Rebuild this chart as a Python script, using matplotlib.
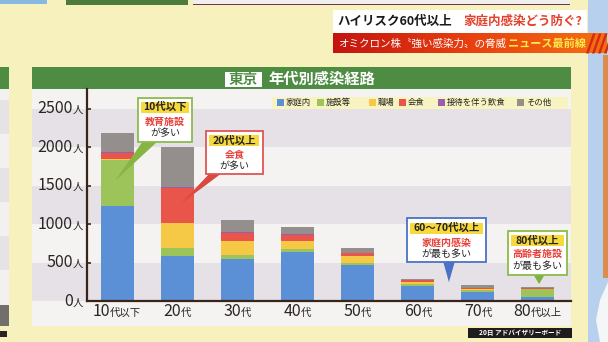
import matplotlib
matplotlib.use("Agg")
import matplotlib.pyplot as plt
import numpy as np
from matplotlib.patches import Rectangle, Polygon
from matplotlib.offsetbox import TextArea, HPacker, AnnotationBbox
from matplotlib.colors import LinearSegmentedColormap

plt.rcParams['font.family'] = ['Noto Sans CJK JP', 'DejaVu Sans']

# ---- data: 東京 年代別感染経路 (人) ----
age_num = ["10", "20", "30", "40", "50", "60", "70", "80"]
age_suffix = ["代以下", "代", "代", "代", "代", "代", "代", "代以上"]
routes = ["家庭内", "施設等", "職場", "会食", "接待を伴う飲食", "その他"]
home = [1240, 585, 550, 635, 465, 195, 115, 50]
facility = [590, 110, 45, 35, 30, 25, 25, 110]
work = [20, 325, 185, 115, 85, 30, 20, 2]
dining = [75, 450, 110, 75, 40, 20, 12, 4]
hosting = [5, 15, 5, 5, 5, 3, 2, 1]
other = [250, 515, 160, 95, 60, 15, 30, 15]
series = [home, facility, work, dining, hosting, other]
yticks = [0, 500, 1000, 1500, 2000, 2500]

colors = ["#5b8fd6", "#9dc45a", "#f5c945", "#e9544b", "#9b5db0", "#948e8c"]
DARK = "#3a2418"
GREEN = "#4e8c43"

W, H = 608, 342
fig = plt.figure(figsize=(W / 100, H / 100), dpi=100)
fig.patch.set_facecolor("#f6f1bd")

# background layer in pixel coordinates
bg = fig.add_axes([0, 0, 1, 1])
bg.set_xlim(0, W)
bg.set_ylim(H, 0)
bg.axis("off")
bg.set_zorder(0)


def rect(a, x0, y0, x1, y1, **kw):
    a.add_patch(Rectangle((x0, y0), x1 - x0, y1 - y0, linewidth=0, **kw))


# studio backdrop on the right
rect(bg, 588, 0, 608, 342, color="#b7d0ee")
rect(bg, 603, 55, 608, 278, color="#dc8d4c")
bg.add_patch(Polygon([(600, 342), (596, 320), (600, 300), (608, 282), (608, 342)],
                     closed=True, color="#f4f6f8", lw=0))

# neighbouring boards at the top and left
rect(bg, 0, 0, 47, 4, color="#86b8e2")
rect(bg, 66, 0, 188, 4.5, color="#4b7b3d")
rect(bg, 193, 0, 570, 4.5, color="#f0eeee")
rect(bg, 193, 3.5, 570, 5, color="#6a3a48")
rect(bg, 0, 67, 9, 89, color=GREEN)
rect(bg, 0, 89, 9, 305, color="#f2f1f0")
for y0 in (100, 168, 236):
    rect(bg, 0, y0, 9, y0 + 34, color="#e6e3e7")
rect(bg, 0, 305, 9, 326, color="#726e6b")
rect(bg, 0, 331, 7, 337, color="#2a2422")

# main board
rect(bg, 32, 67, 571, 89, color=GREEN)
rect(bg, 32, 89, 571, 326, color="#f4f3f1")
rect(bg, 225, 72, 262, 87, color="white")
bg.text(243.5, 79.3, "東京", color=GREEN, fontsize=10.5, fontweight="bold",
        ha="center", va="center")
bg.text(268, 79.3, "年代別感染経路", color="white", fontsize=11, fontweight="bold",
        ha="left", va="center")

# legend strip
rect(bg, 272, 96.5, 568, 109, color="#f8f4c2")
leg_x = [277, 317, 369, 399, 438, 517]
for lx, name, c in zip(leg_x, routes, colors):
    rect(bg, lx, 99, lx + 6.5, 105.5, color=c)
    bg.text(lx + 9, 102.2, name, fontsize=6, color="#222222", ha="left", va="center")

# ---- chart ----
ax = fig.add_axes([87 / W, (H - 301) / H, 484 / W, 212 / H])
ax.set_zorder(1)
ax.patch.set_alpha(0)
ymax = 212 * 2500 / 192.4
ax.set_ylim(0, ymax)
ax.set_xlim(-0.5, 7.55)

ytr = ax.get_yaxis_transform()
left_ext = -(87 - 32) / 484
for lo in (0, 1000, 2000):
    ax.add_patch(Rectangle((left_ext, lo), 1 - left_ext, 500, transform=ytr,
                           color="#e5e1e7", lw=0, clip_on=False, zorder=0))

x = np.arange(len(age_num))
bottom = np.zeros(len(age_num))
for vals, c in zip(series, colors):
    ax.bar(x, vals, 0.55, bottom=bottom, color=c, linewidth=0, zorder=2)
    bottom += np.array(vals)

for s in ("top", "right"):
    ax.spines[s].set_visible(False)
for s in ("left", "bottom"):
    ax.spines[s].set_color(DARK)
    ax.spines[s].set_linewidth(1.6)
    ax.spines[s].set_zorder(3)
ax.set_xticks([])
ax.set_yticks(yticks)
ax.set_yticklabels([])
ax.tick_params(axis="y", direction="in", length=3, width=1.2, color=DARK)


def two_size_label(big, small, xy, xycoords, offset, align):
    box = HPacker(children=[TextArea(big, textprops=dict(fontsize=11.5, color="#2b2522")),
                            TextArea(small, textprops=dict(fontsize=7.5, color="#2b2522"))],
                  align="baseline", pad=0, sep=0)
    ab = AnnotationBbox(box, xy, xycoords=xycoords, xybox=offset,
                        boxcoords="offset pixels", box_alignment=align,
                        frameon=False, pad=0, annotation_clip=False)
    ax.add_artist(ab)


for v in yticks:
    two_size_label(str(v), "人", (0, v), ytr, (-4, 0), (1, 0.5))

xtr = ax.get_xaxis_transform()
for i, (n, s) in enumerate(zip(age_num, age_suffix)):
    two_size_label(n, s, (i, 0), xtr, (0, -10), (0.5, 0.5))

# ---- callouts ----
ov = fig.add_axes([0, 0, 1, 1])
ov.set_xlim(0, W)
ov.set_ylim(H, 0)
ov.axis("off")
ov.set_zorder(5)
ov.patch.set_alpha(0)


def to_px(xv, yv):
    dx, dy = ax.transData.transform((xv, yv))
    return dx, H - dy


def callout(box, edge, ptr_color, lines, hl, base, tip_data):
    x0, y0, x1, y1 = box
    tip = to_px(*tip_data)
    ov.add_patch(Polygon([base[0], base[1], tip], closed=True, color=ptr_color,
                         lw=0, zorder=1))
    ov.add_patch(Rectangle((x0, y0), x1 - x0, y1 - y0, fc="white", ec=edge,
                           lw=1.3, zorder=2))
    hx0, hy0, hx1, hy1 = hl
    ov.add_patch(Rectangle((hx0, hy0), hx1 - hx0, hy1 - hy0, color="#f7d93c",
                           lw=0, zorder=3))
    cx = (x0 + x1) / 2
    (t1, y_1), (t2, y_2), (t3, y_3) = lines
    ov.text(cx, y_1, t1, fontsize=7.5, fontweight="bold", color="#222222",
            ha="center", va="center", zorder=4)
    ov.text(cx, y_2, t2, fontsize=7.2, fontweight="bold", color="#e8403a",
            ha="center", va="center", zorder=4)
    ov.text(cx, y_3, t3, fontsize=7.2, color="#222222",
            ha="center", va="center", zorder=4)


callout((138, 98, 192, 142), "#8cbb4c", "#86b546",
        [("10代以下", 107), ("教育施設", 121.5), ("が多い", 133.5)],
        (141, 101.5, 189, 112.5), [(143, 141), (158, 141)], (-0.03, 1565))
callout((206, 131, 263, 174), "#e05555", "#d84a40",
        [("20代以上", 140.3), ("会食", 154), ("が多い", 166.5)],
        (209, 135, 259, 145.7), [(210, 173), (222, 173)], (1.07, 1270))
callout((407, 218, 486, 262), "#4a72c4", "#4a72c4",
        [("60～70代以上", 228), ("家庭内感染", 242.5), ("が最も多い", 254)],
        (410, 222.5, 483, 233.5), [(443, 261), (455, 261)], (5.52, 245))
callout((508, 231, 567, 275), "#8cbb4c", "#7fb040",
        [("80代以上", 240.5), ("高齢者施設", 254), ("が最も多い", 266.5)],
        (511, 235, 564, 246), [(533, 274), (545, 274)], (7.02, 220))

# source tag
rect(ov, 468, 328, 572, 337.5, color="#1e1c1c")
ov.text(520, 332.8, "20日 アドバイザリーボード", fontsize=4.8, color="white",
        ha="center", va="center", fontweight="bold")

# ---- broadcast captions ----
rect(ov, 333, 10, 587, 33.5, color="white")
ov.text(337, 21.5, "ハイリスク60代以上", fontsize=9, fontweight="bold",
        color="#1a1a1a", ha="left", va="center")
ov.text(463, 21.5, "家庭内感染どう防ぐ?", fontsize=9, fontweight="bold",
        color="#e3412b", ha="left", va="center")

grad = np.linspace(0, 1, 256).reshape(1, -1)
cmap = LinearSegmentedColormap.from_list("banner", ["#c4140f", "#e8400f", "#f57014"])
ov.imshow(grad, cmap=cmap, aspect="auto", extent=(333, 607, 53.5, 33.5), zorder=2)
for sx in (586, 592, 598, 604):
    ov.add_patch(Polygon([(sx, 53.5), (sx + 2.5, 53.5), (sx + 9.5, 33.5), (sx + 7, 33.5)],
                         closed=True, color="#d42a10", lw=0, zorder=3, clip_on=True))
ov.text(338, 43.5, "オミクロン株〝強い感染力〟の脅威", fontsize=7.6, color="white",
        ha="left", va="center", zorder=4)
ov.text(508, 43.5, "ニュース最前線", fontsize=8, fontweight="bold", color="#ffe94a",
        ha="left", va="center", zorder=4)
ov.set_xlim(0, W)
ov.set_ylim(H, 0)

fig.savefig("out.png", dpi=100, facecolor=fig.get_facecolor())
